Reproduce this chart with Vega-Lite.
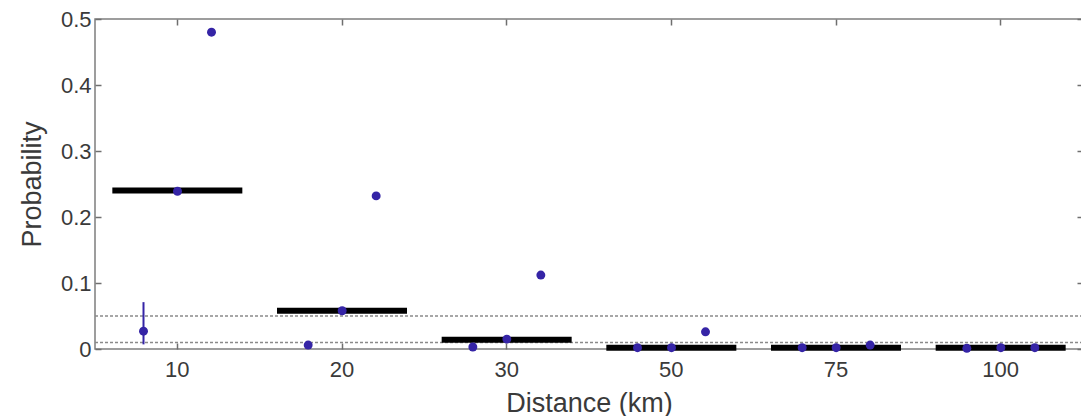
{
  "$schema": "https://vega.github.io/schema/vega-lite/v6.json",
  "width": 988,
  "height": 330,
  "autosize": {"type": "none"},
  "padding": {"left": 95, "top": 19, "right": 0, "bottom": 67},
  "background": "white",
  "config": {
    "font": "Liberation Sans",
    "view": {"stroke": "#7d7d7d", "strokeWidth": 1.5},
    "axis": {
      "grid": false,
      "domain": false,
      "tickColor": "#6f6f6f",
      "tickWidth": 1.5,
      "tickSize": -6,
      "labelColor": "#3a3a3a",
      "labelFontSize": 22,
      "titleColor": "#3a3a3a",
      "titleFontSize": 27,
      "titleFontWeight": "normal"
    }
  },
  "datasets": {
    "bins": [
      {"distance": "10", "probability": 0.24},
      {"distance": "20", "probability": 0.058},
      {"distance": "30", "probability": 0.014},
      {"distance": "50", "probability": 0.002},
      {"distance": "75", "probability": 0.002},
      {"distance": "100", "probability": 0.002}
    ],
    "points": [
      {"distance": "10", "slot": "left", "probability": 0.027, "low": 0.007, "high": 0.071},
      {"distance": "10", "slot": "centre", "probability": 0.239},
      {"distance": "10", "slot": "right", "probability": 0.48},
      {"distance": "20", "slot": "left", "probability": 0.006},
      {"distance": "20", "slot": "centre", "probability": 0.058},
      {"distance": "20", "slot": "right", "probability": 0.232},
      {"distance": "30", "slot": "left", "probability": 0.003},
      {"distance": "30", "slot": "centre", "probability": 0.015},
      {"distance": "30", "slot": "right", "probability": 0.112},
      {"distance": "50", "slot": "left", "probability": 0.002},
      {"distance": "50", "slot": "centre", "probability": 0.002},
      {"distance": "50", "slot": "right", "probability": 0.026},
      {"distance": "75", "slot": "left", "probability": 0.002},
      {"distance": "75", "slot": "centre", "probability": 0.002},
      {"distance": "75", "slot": "right", "probability": 0.006},
      {"distance": "100", "slot": "left", "probability": 0.001},
      {"distance": "100", "slot": "centre", "probability": 0.002},
      {"distance": "100", "slot": "right", "probability": 0.002}
    ],
    "thresholds": [
      {"level": 0.05},
      {"level": 0.01}
    ]
  },
  "resolve": {
    "scale": {"x": "shared", "y": "shared"},
    "axis": {"x": "independent", "y": "independent"}
  },
  "layer": [
    {
      "data": {"name": "thresholds"},
      "mark": {"type": "rule", "color": "#8a8a8a", "strokeWidth": 1.5, "strokeDash": [3, 2]},
      "encoding": {
        "y": {"field": "level", "type": "quantitative", "scale": {"domain": [0, 0.5], "nice": false}, "axis": null}
      }
    },
    {
      "data": {"name": "bins"},
      "mark": {"type": "tick", "color": "black", "size": 130, "thickness": 6, "opacity": 1},
      "encoding": {
        "x": {
          "field": "distance", "type": "ordinal",
          "scale": {"domain": ["10", "20", "30", "50", "75", "100"], "paddingInner": 0, "paddingOuter": 0},
          "axis": {"orient": "top", "labels": false, "title": null}
        },
        "y": {
          "field": "probability", "type": "quantitative",
          "scale": {"domain": [0, 0.5], "nice": false},
          "axis": {"orient": "right", "labels": false, "title": null, "values": [0, 0.1, 0.2, 0.3, 0.4, 0.5]}
        }
      }
    },
    {
      "data": {"name": "points"},
      "transform": [{"filter": "isValid(datum.high)"}],
      "mark": {"type": "rule", "color": "#3524a6", "strokeWidth": 2},
      "encoding": {
        "x": {"field": "distance", "type": "ordinal", "axis": null},
        "xOffset": {"field": "slot", "type": "nominal", "scale": {"type": "point", "domain": ["left", "centre", "right"], "range": [48.5, 116.5], "padding": 0}},
        "y": {"field": "low", "type": "quantitative", "axis": null},
        "y2": {"field": "high"}
      }
    },
    {
      "data": {"name": "points"},
      "mark": {"type": "circle", "color": "#3524a6", "size": 80, "opacity": 1},
      "encoding": {
        "x": {
          "field": "distance", "type": "ordinal",
          "axis": {"orient": "bottom", "title": "Distance (km)", "labelAngle": 0, "labelPadding": 16, "titlePadding": 10}
        },
        "xOffset": {"field": "slot", "type": "nominal", "scale": {"type": "point", "domain": ["left", "centre", "right"], "range": [48.5, 116.5], "padding": 0}},
        "y": {
          "field": "probability", "type": "quantitative",
          "axis": {
            "orient": "left", "title": "Probability",
            "values": [0, 0.1, 0.2, 0.3, 0.4, 0.5],
            "labelExpr": "datum.value == 0 ? '0' : format(datum.value, '.1f')",
            "labelPadding": 10, "titlePadding": 14
          }
        }
      }
    }
  ]
}
